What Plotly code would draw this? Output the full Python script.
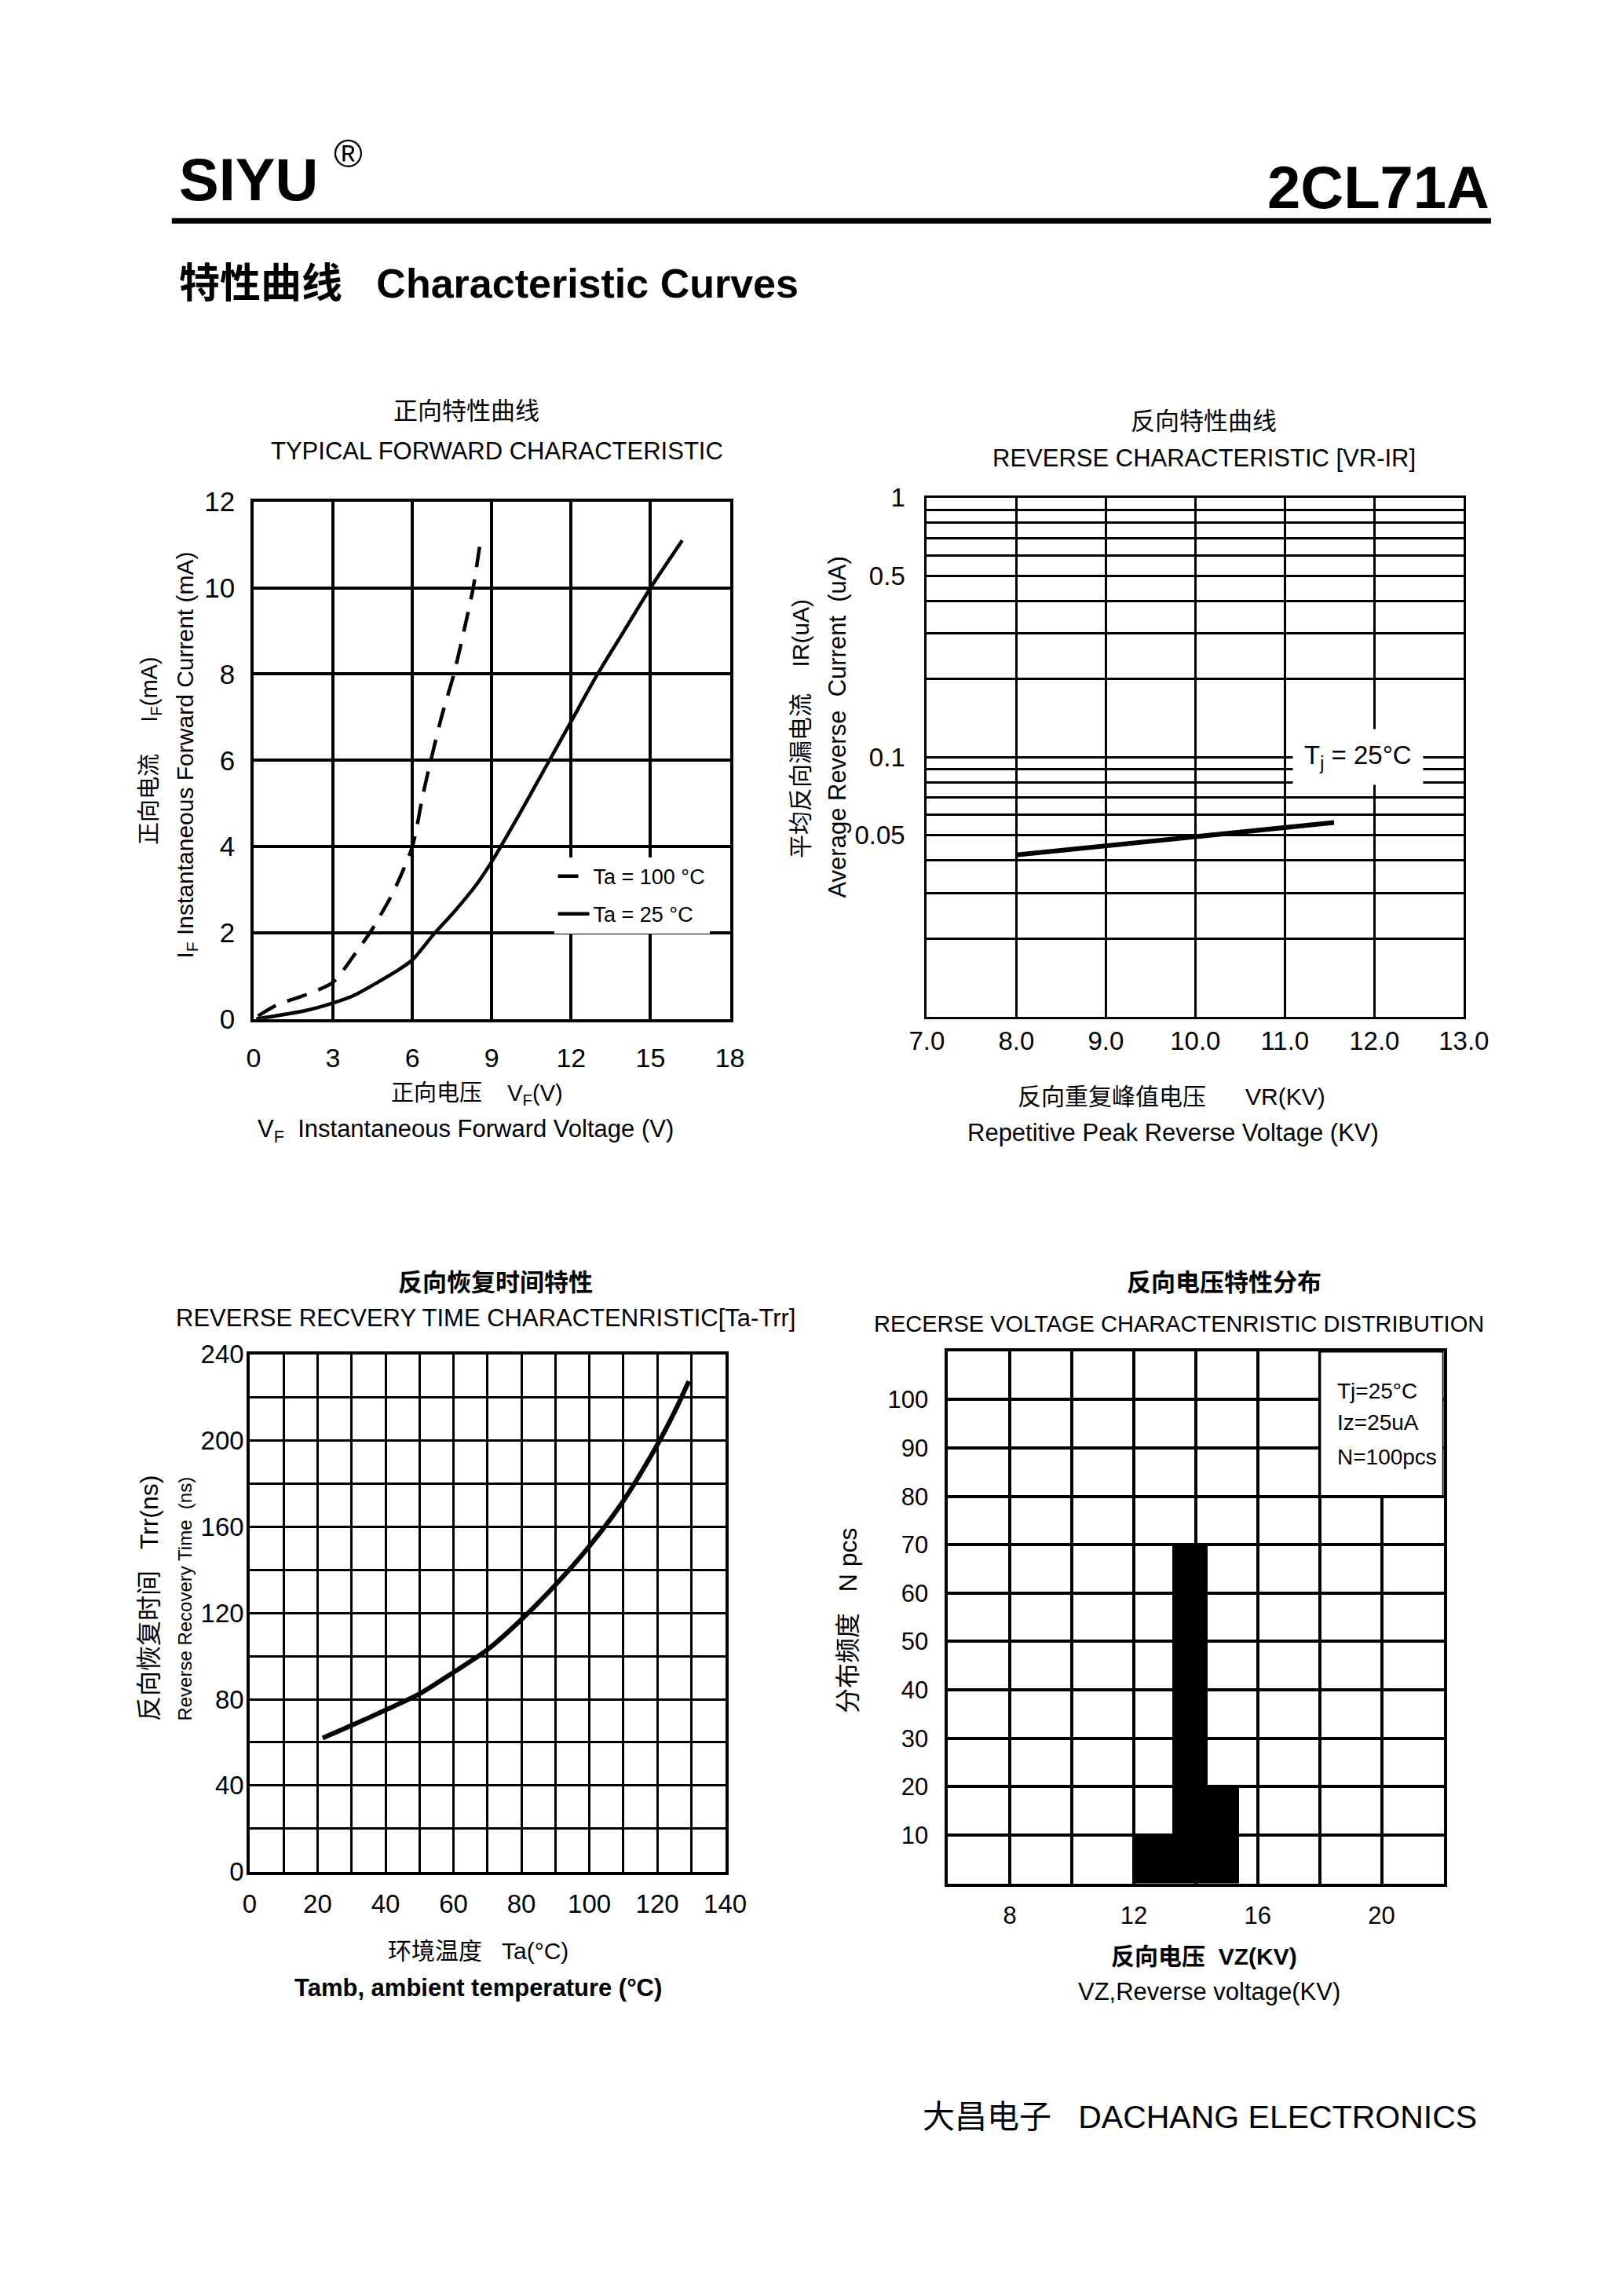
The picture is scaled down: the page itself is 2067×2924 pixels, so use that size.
import plotly.graph_objects as go

W, H = 2067, 2924

# ---------------- data ----------------
# Typical forward characteristic (V, mA)
fwd_v_100 = [0.17, 0.9, 2.1, 3.0, 3.9, 4.5, 5.3, 6.0, 6.4, 6.7, 7.1, 7.57, 7.95, 8.3, 8.6]
fwd_i_100 = [0.07, 0.33, 0.59, 0.85, 1.57, 2.1, 2.97, 4.0, 5.2, 6.0, 7.0, 8.0, 9.0, 10.0, 11.2]
fwd_v_25 = [0.1, 2.0, 3.0, 3.8, 5.5, 6.0, 6.8, 7.6, 8.4, 9.0, 10.0, 11.0, 12.0, 13.0, 14.0, 15.0, 16.2]
fwd_i_25 = [0.0, 0.2, 0.37, 0.55, 1.15, 1.37, 1.96, 2.5, 3.1, 3.65, 4.7, 5.8, 6.9, 8.0, 9.0, 10.0, 11.1]
fwd_x_ticks = [0, 3, 6, 9, 12, 15, 18]

# Reverse characteristic (kV, uA)
rev_v = [8.0, 9.0, 10.0, 11.0, 11.55]
rev_i = [0.042, 0.0455, 0.0495, 0.0535, 0.056]
rev_y_ticks = [0.05, 0.1, 0.5, 1]
rev_y_ticktext = ["0.05", "0.1", "0.5", "1"]

# Reverse recovery time (degC, ns)
trr_t = [21.5, 29.5, 40, 50, 60, 70, 80, 90, 100, 110, 120, 125, 129.3]
trr_ns = [62, 67.5, 75, 82.5, 92.5, 103, 117, 133, 151, 172, 198, 213, 227.5]
trr_x_ticks = [0, 20, 40, 60, 80, 100, 120, 140]

# Reverse voltage distribution (kV, pcs)
vz_left = [12.0, 13.25, 14.4]
vz_right = [13.25, 14.4, 15.4]
vz_count = [10, 70, 20]
vz_x_ticks = [8, 12, 16, 20]
vz_y_ticks = [10, 20, 30, 40, 50, 60, 70, 80, 90, 100]

# ---------------- helpers ----------------
FONT = "Liberation Sans, Arial, Noto Sans CJK SC, sans-serif"
NB = "\u00a0"


def px(x):
    # page pixel -> paper fraction (compensates page offset seen in render)
    return ((x - 29.5) / 0.982) / W


def py(y):
    return 1 - ((y - 23.5) / 0.9958) / H


def axis(**kw):
    d = dict(showline=True, mirror=True, linecolor="black", linewidth=3.5,
             showgrid=True, gridcolor="black", gridwidth=3.5, zeroline=False,
             ticks="", fixedrange=True,
             tickfont=dict(family=FONT, size=33, color="black"))
    d.update(kw)
    return d


def txt(text, x, y, size, bold=False, xanchor="center", angle=0):
    return dict(text=("<b>%s</b>" % text) if bold else text,
                x=px(x), y=py(y), xref="paper", yref="paper",
                xanchor=xanchor, yanchor="middle", showarrow=False,
                textangle=angle,
                font=dict(family=FONT, size=size, color="black"))


fig = go.Figure()

# chart 1 : forward
fig.add_trace(go.Scatter(x=fwd_v_100, y=fwd_i_100, xaxis="x", yaxis="y", mode="lines",
                         name="Ta = 100 °C", legendgroup="a",
                         line=dict(color="black", width=4.5, dash="26px,16px",
                                   shape="spline", smoothing=0.7)))
fig.add_trace(go.Scatter(x=fwd_v_25, y=fwd_i_25, xaxis="x", yaxis="y", mode="lines",
                         name="Ta = 25 °C", legendgroup="b",
                         line=dict(color="black", width=4.5, shape="spline", smoothing=0.7)))
# chart 2 : reverse
fig.add_trace(go.Scatter(x=rev_v, y=rev_i, xaxis="x2", yaxis="y2", mode="lines",
                         showlegend=False, line=dict(color="black", width=6)))
# chart 3 : trr
fig.add_trace(go.Scatter(x=trr_t, y=trr_ns, xaxis="x3", yaxis="y3", mode="lines",
                         showlegend=False,
                         line=dict(color="black", width=6, shape="spline", smoothing=0.8)))
# chart 4 : distribution
vz_center = [(a + b) / 2 for a, b in zip(vz_left, vz_right)]
vz_width = [b - a for a, b in zip(vz_left, vz_right)]
fig.add_trace(go.Bar(x=vz_center, y=vz_count, width=vz_width, xaxis="x4", yaxis="y4",
                     marker=dict(color="black", line=dict(width=0)), showlegend=False))

minor_log = [m * 10 ** e for e in (-2, -1) for m in range(2, 10)]

fig.update_layout(
    width=W, height=H, margin=dict(l=0, r=0, t=0, b=0),
    paper_bgcolor="white", plot_bgcolor="white",
    font=dict(family=FONT, color="black"),
    xaxis=axis(domain=[px(324), px(936)], range=[0, 18], tickmode="array",
               tickvals=fwd_x_ticks, anchor="y", ticklabelstandoff=17,
               tickfont=dict(family=FONT, size=34, color="black")),
    yaxis=axis(domain=[py(1305), py(640)], range=[0, 12], dtick=2, anchor="x",
               ticklabelstandoff=13,
               tickfont=dict(family=FONT, size=35, color="black")),
    xaxis2=axis(domain=[px(1189), px(1879)], range=[7, 13], dtick=1, tickformat=".1f",
                anchor="y2", ticklabelstandoff=0, linewidth=3, gridwidth=3),
    yaxis2=axis(domain=[py(1302), py(635)], type="log", range=[-2, 0],
                tickmode="array", tickvals=rev_y_ticks, ticktext=rev_y_ticktext,
                anchor="x2", ticklabelstandoff=18, linewidth=3, gridwidth=3,
                minor=dict(tickmode="array", tickvals=minor_log, showgrid=True,
                           gridcolor="black", gridwidth=2.5, ticks="")),
    xaxis3=axis(domain=[px(319), px(930)], range=[0, 140], tickmode="array",
                tickvals=trr_x_ticks, anchor="y3", ticklabelstandoff=9,
                linewidth=3.5, gridwidth=3,
                minor=dict(dtick=10, tick0=0, showgrid=True, gridcolor="black",
                           gridwidth=3, ticks=""),
                tickfont=dict(family=FONT, size=33, color="black")),
    yaxis3=axis(domain=[py(2401), py(1736)], range=[0, 240], dtick=40, anchor="x3",
                ticklabelstandoff=-3, linewidth=3.5, gridwidth=3,
                minor=dict(dtick=20, tick0=0, showgrid=True, gridcolor="black",
                           gridwidth=3, ticks=""),
                tickfont=dict(family=FONT, size=33, color="black")),
    xaxis4=axis(domain=[px(1216), px(1853)], range=[6, 22], tickmode="array",
                tickvals=vz_x_ticks, anchor="y4", ticklabelstandoff=11,
                minor=dict(dtick=2, tick0=0, showgrid=True, gridcolor="black",
                           gridwidth=3.5, ticks=""),
                tickfont=dict(family=FONT, size=31, color="black")),
    yaxis4=axis(domain=[py(2416), py(1732)], range=[0, 110], tickmode="array",
                tickvals=vz_y_ticks, anchor="x4", ticklabelstandoff=15,
                tickfont=dict(family=FONT, size=31, color="black")),
    legend=dict(x=px(710), y=py(1097), xanchor="left", yanchor="top",
                bgcolor="white", borderwidth=0, itemwidth=40,
                font=dict(family=FONT, size=27, color="black"),
                tracegroupgap=10),
    showlegend=True,
    bargap=0,
)

# page header rule
fig.add_shape(type="line", xref="paper", yref="paper", x0=px(219), x1=px(1914),
              y0=py(279), y1=py(279), line=dict(color="black", width=7))
# distribution info box
fig.add_shape(type="rect", xref="x4", yref="y4", x0=18, x1=22, y0=80, y1=110,
              fillcolor="white", line=dict(color="black", width=3.5), layer="above")

ann = [
    txt("SIYU", 226, 226, 76, bold=True, xanchor="left"),
    txt("®", 425, 193, 50, xanchor="left"),
    txt("2CL71A", 1914, 236, 76, bold=True, xanchor="right"),
    txt("特性曲线" + NB * 3 + "Characteristic Curves", 226, 360, 52, bold=True, xanchor="left"),
    txt("大昌电子" + NB * 3 + "DACHANG ELECTRONICS", 1898, 2716, 41, xanchor="right"),

    # chart 1
    txt("正向特性曲线", 597, 524, 31),
    txt("TYPICAL FORWARD CHARACTERISTIC", 637, 575, 31),
    txt("正向电压" + NB * 4 + "V<sub>F</sub>(V)", 611, 1402, 29),
    txt("V<sub>F</sub>" + NB * 2 + "Instantaneous Forward Voltage (V)", 596, 1449, 31),
    txt("正向电流" + NB * 5 + "I<sub>F</sub>(mA)", 192, 960, 29, angle=-90),
    txt("I<sub>F</sub> Instantaneous Forward Current (mA)", 238, 966, 30, angle=-90),

    # chart 2
    txt("反向特性曲线", 1545, 537, 31),
    txt("REVERSE CHARACTERISTIC [VR-IR]", 1545, 584, 31),
    txt("反向重复峰值电压" + NB * 6 + "VR(KV)", 1503, 1405, 30),
    txt("Repetitive Peak Reverse Voltage (KV)", 1505, 1451, 31),
    txt("平均反向漏电流" + NB * 4 + "IR(uA)", 1026, 932, 30, angle=-90),
    txt("Average Reverse" + NB * 2 + "Current" + NB * 2 + "(uA)", 1074, 930, 31, angle=-90),

    # chart 3
    txt("反向恢复时间特性", 635, 1644, 31, bold=True),
    txt("REVERSE RECVERY TIME CHARACTENRISTIC[Ta-Trr]", 622, 1689, 31),
    txt("环境温度" + NB * 3 + "Ta(°C)", 613, 2503, 30),
    txt("Tamb, ambient temperature (°C)", 613, 2550, 31, bold=True),
    txt("反向恢复时间" + NB * 3 + "Trr(ns)", 190, 2050, 32, angle=-90),
    txt("Reverse Recovery Time" + NB * 2 + "(ns)", 236, 2050, 24, angle=-90),

    # chart 4
    txt("反向电压特性分布", 1571, 1644, 31, bold=True),
    txt("RECERSE VOLTAGE CHARACTENRISTIC DISTRIBUTION", 1513, 1697, 29),
    txt("反向电压" + NB * 2 + "VZ(KV)", 1545, 2510, 30, bold=True),
    txt("VZ,Reverse voltage(KV)", 1552, 2555, 31),
    txt("分布频度" + NB * 3 + "N pcs", 1087, 2078, 32, angle=-90),
    txt("Tj=25°C", 1714, 1783, 28, xanchor="left"),
    txt("Iz=25uA", 1714, 1824, 28, xanchor="left"),
    txt("N=100pcs", 1714, 1868, 28, xanchor="left"),
]

# Tj label on reverse characteristic (log axis -> y in log10 units)
ann.append(dict(text="T<sub>j</sub> = 25°C", x=11.82, y=-1, xref="x2", yref="y2",
                xanchor="center", yanchor="middle", showarrow=False,
                bgcolor="white", borderpad=14,
                font=dict(family=FONT, size=33, color="black")))

fig.update_layout(annotations=ann)

fig.write_html("out.html")
